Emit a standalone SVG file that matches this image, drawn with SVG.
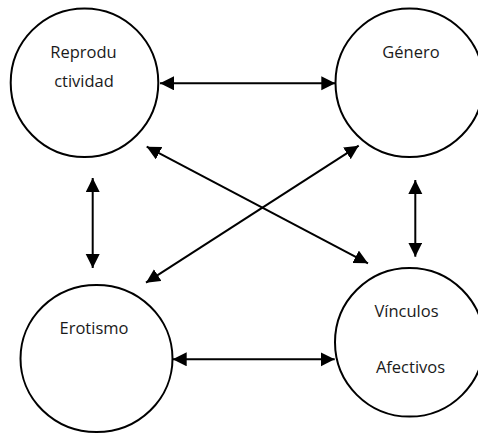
<svg xmlns="http://www.w3.org/2000/svg" width="478" height="433" viewBox="0 0 478 433">
<defs>
<marker id="ah" markerUnits="userSpaceOnUse" markerWidth="15" markerHeight="15" refX="14" refY="7" orient="auto-start-reverse">
<path d="M0,0 L14,7 L0,14 z" fill="#000"/>
</marker>
<style>
.node ellipse{fill:#fff;stroke:#000;stroke-width:2}
.node text{font-family:"Open Sans","Noto Sans",sans-serif;font-size:16.5px;fill:#1a1a1a;text-anchor:middle}
#connectors line{stroke:#000;stroke-width:2;marker-start:url(#ah);marker-end:url(#ah)}
</style>
</defs>
<rect width="478" height="433" fill="#fff"/>
<g id="reproductividad" class="node">
<ellipse cx="84.5" cy="82.7" rx="73.8" ry="74.3"/>
<text x="83.5" y="58.3">Reprodu</text>
<text x="84" y="87">ctividad</text>
</g>
<g id="genero" class="node">
<ellipse cx="409.5" cy="82.7" rx="74" ry="74.3"/>
<text x="411" y="58.3">Género</text>
</g>
<g id="erotismo" class="node">
<ellipse cx="96.5" cy="358.5" rx="76" ry="73.5"/>
<text x="94" y="334">Erotismo</text>
</g>
<g id="vinculos" class="node">
<ellipse cx="409.5" cy="342.3" rx="74.5" ry="74.3"/>
<text x="406.5" y="317.3">Vínculos</text>
<text x="410.5" y="372.7">Afectivos</text>
</g>
<g id="connectors">
<line x1="160" y1="83.3" x2="335.3" y2="83.3"/>
<line x1="172.7" y1="359.3" x2="334.7" y2="359.3"/>
<line x1="92.7" y1="178" x2="92.7" y2="268"/>
<line x1="415.3" y1="180" x2="415.3" y2="256.7"/>
<line x1="146.7" y1="146.7" x2="368" y2="263.3"/>
<line x1="146" y1="282.7" x2="358.7" y2="145.7"/>
</g>
</svg>
